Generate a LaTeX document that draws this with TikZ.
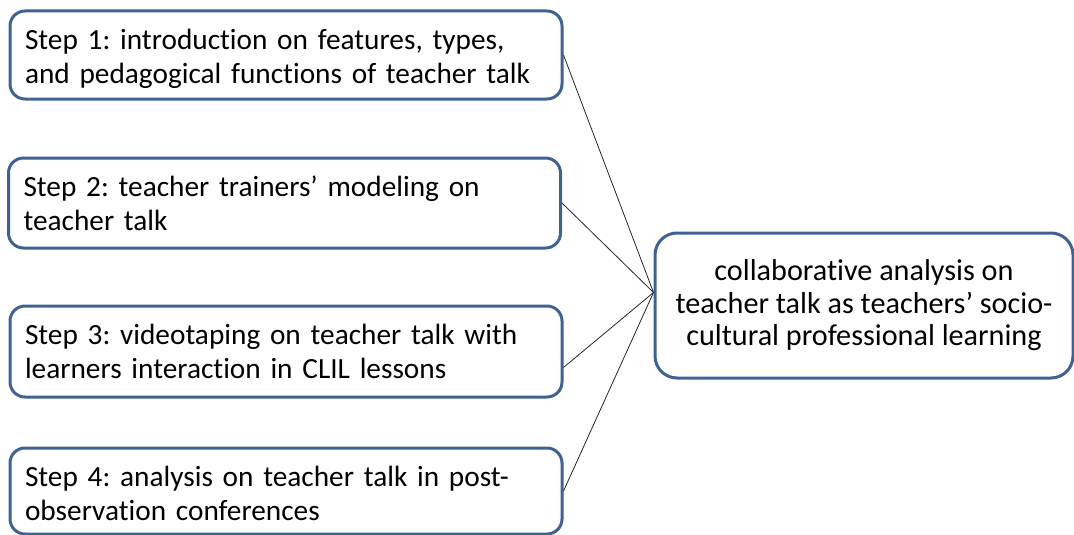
\documentclass[tikz,border=0pt]{standalone}
\usepackage{fontspec}
\setmainfont[Ligatures=CommonOff]{Carlito}
\usetikzlibrary{calc}
\definecolor{boxblue}{RGB}{62,98,148}
\begin{document}
\frenchspacing
\begin{tikzpicture}[x=1pt,y=-1pt,
  stepbox/.style={draw=boxblue, line width=3pt, rounded corners=15pt,
    minimum width=552pt, inner xsep=14pt, align=left, text width=522pt,
    font=\fontsize{29.3}{34}\selectfont\frenchspacing},
  goalbox/.style={draw=boxblue, line width=3pt, rounded corners=22pt,
    minimum width=418pt, minimum height=145pt, align=center,
    font=\fontsize{30.2}{32.5}\selectfont\frenchspacing},
  % taller first line, which lowers the text block inside its box
  droptext/.style={execute at begin node={\rule{0pt}{#1}}},
  link/.style={draw=black!85, line width=0.8pt}]
\useasboundingbox (0,0) rectangle (1074,535);
\node[stepbox, minimum height=88pt, droptext=28pt] (s1) at (286,55)
  {Step 1: introduction on features, types,\\and pedagogical functions of teacher talk};
\node[stepbox, minimum height=90pt] (s2) at (284.5,203)
  {Step 2: teacher trainers’ modeling on\\teacher talk};
\node[stepbox, minimum height=91pt] (s3) at (286,351.5)
  {Step 3: videotaping on teacher talk with\\learners interaction in CLIL lessons};
\node[stepbox, minimum height=86pt, droptext=26pt] (s4) at (286,491)
  {Step 4: analysis on teacher talk in post-\\observation conferences};
\node[goalbox, droptext=27pt] (g) at (864,305.5)
  {collaborative analysis on\\teacher talk as teachers’ socio-\\cultural professional learning};
\coordinate (hub) at ($(g.west)+(0,-13)$);
\draw[link] (s1.east) -- (hub);
\draw[link] (s2.east) -- (hub);
\draw[link] ($(s3.east)+(0,16)$) -- (hub);
\draw[link] (s4.east) -- (hub);
\end{tikzpicture}
\end{document}
